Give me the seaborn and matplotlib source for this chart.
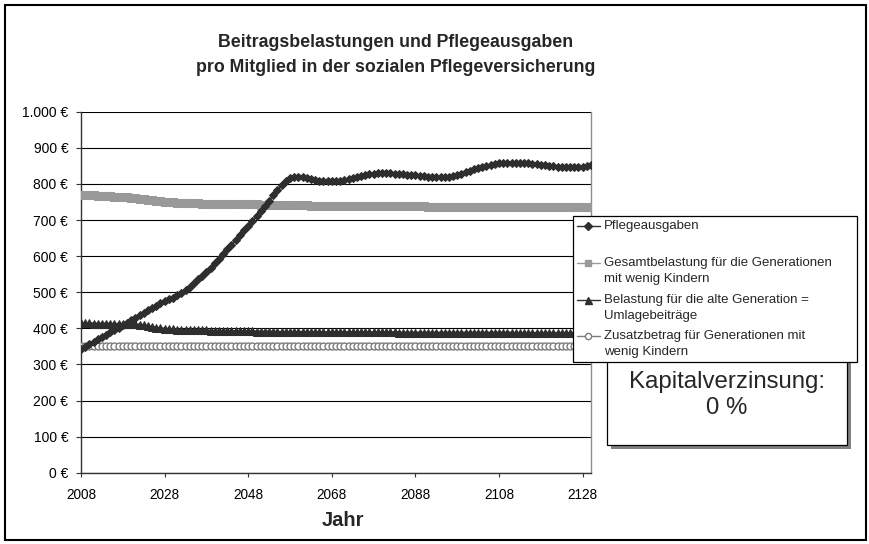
import matplotlib
matplotlib.use("Agg")
import matplotlib.pyplot as plt
from matplotlib import font_manager
from matplotlib.patches import Rectangle
from matplotlib.lines import Line2D
import seaborn as sns

# ---------------------------------------------------------------- data
years = list(range(2008, 2131))

pflegeausgaben = [
    344, 349, 356, 362, 369, 375, 382, 389, 395, 402,   # 2008-2017
    409, 415, 422, 429, 436, 443, 450, 457, 463, 469,   # 2018-2027
    475, 480, 485, 491, 498, 506, 515, 525, 536, 545,   # 2028-2037
    555, 567, 580, 593, 606, 619, 632, 645, 658, 671,   # 2038-2047
    684, 698, 712, 726, 740, 754, 768, 782, 796, 808,   # 2048-2057
    815, 818, 819, 818, 816, 813, 811, 809, 808, 807,   # 2058-2067
    807, 808, 809, 811, 814, 817, 820, 823, 825, 827,   # 2068-2077
    828, 829, 829, 829, 829, 828, 828, 827, 826, 825,   # 2078-2087
    824, 822, 821, 820, 819, 818, 818, 819, 820, 822,   # 2088-2097
    825, 828, 832, 836, 840, 844, 847, 850, 853, 855,   # 2098-2107
    857, 858, 859, 859, 859, 859, 858, 857, 856, 855,   # 2108-2117
    853, 852, 850, 849, 848, 847, 846, 846, 846, 847,   # 2118-2127
    848, 849, 851,                                      # 2128-2130
]

gesamtbelastung = [
    769, 769, 768, 768, 767, 767, 766, 766, 765, 765,
    764, 763, 762, 761, 759, 758, 756, 755, 753, 752,
    751, 750, 749, 748, 747, 747, 746, 746, 746, 745,
    745, 745, 744, 744, 744, 744, 744, 743, 743, 743,
    743, 743, 743, 742, 742, 742, 742, 742, 741, 741,
    741, 741, 741, 741, 741, 740, 740, 740, 740, 740,
    740, 740, 740, 740, 740, 739, 739, 739, 739, 739,
    739, 739, 739, 739, 738, 738, 738, 738, 738, 738,
    738, 738, 738, 737, 737, 737, 737, 737, 737, 737,
    737, 737, 737, 737, 737, 737, 736, 736, 736, 736,
    736, 736, 736, 736, 736, 736, 736, 736, 736, 735,
    735, 735, 735, 735, 735, 735, 735, 735, 735, 735,
    735, 735, 735,
]

belastung_alt = [
    414, 414, 414, 413, 413, 413, 413, 413, 412, 412,
    412, 412, 411, 411, 410, 408, 406, 404, 402, 400,
    399, 398, 397, 396, 396, 395, 395, 394, 394, 394,
    394, 393, 393, 393, 393, 393, 393, 392, 392, 392,
    392, 392, 391, 391, 391, 391, 391, 390, 390, 390,
    390, 390, 390, 390, 390, 389, 389, 389, 389, 389,
    389, 389, 389, 389, 389, 389, 389, 389, 389, 389,
    389, 389, 389, 389, 389, 389, 388, 388, 388, 388,
    388, 388, 388, 388, 388, 388, 388, 388, 388, 388,
    388, 388, 388, 388, 388, 388, 388, 388, 388, 388,
    388, 388, 388, 388, 387, 387, 387, 387, 387, 387,
    387, 387, 387, 387, 387, 387, 387, 387, 387, 387,
    387, 387, 387,
]

zusatzbetrag = [
    350, 350, 350, 350, 350, 350, 350, 350, 350, 350,
    350, 350, 350, 350, 350, 350, 350, 350, 350, 350,
    350, 350, 350, 350, 350, 350, 350, 350, 350, 350,
    350, 350, 350, 350, 350, 350, 350, 350, 350, 350,
    350, 350, 350, 350, 350, 350, 350, 350, 350, 350,
    350, 350, 350, 350, 350, 350, 350, 350, 350, 350,
    350, 350, 350, 350, 350, 350, 350, 350, 350, 350,
    350, 350, 350, 350, 350, 350, 350, 350, 350, 350,
    350, 350, 350, 350, 350, 350, 350, 350, 350, 350,
    350, 350, 350, 350, 350, 350, 350, 350, 350, 350,
    350, 350, 350, 350, 350, 350, 350, 350, 350, 350,
    350, 350, 350, 350, 350, 350, 350, 350, 350, 350,
    350, 350, 350,
]

series_labels = [
    "Pflegeausgaben",
    "Gesamtbelastung für die Generationen\nmit wenig Kindern",
    "Belastung für die alte Generation =\nUmlagebeiträge",
    "Zusatzbetrag für Generationen mit\nwenig Kindern",
]

y_ticks = [0, 100, 200, 300, 400, 500, 600, 700, 800, 900, 1000]
y_tick_labels = ["0 €", "100 €", "200 €", "300 €", "400 €", "500 €",
                 "600 €", "700 €", "800 €", "900 €", "1.000 €"]
x_ticks = [2008, 2028, 2048, 2068, 2088, 2108, 2128]
x_tick_labels = ["2008", "2028", "2048", "2068", "2088", "2108", "2128"]

title_lines = ["Beitragsbelastungen und Pflegeausgaben",
               "pro Mitglied in der sozialen Pflegeversicherung"]
x_label = "Jahr"
note_lines = ["Kapitalverzinsung:", "0 %"]

# ---------------------------------------------------------------- styles
sns.set_style("white")
plt.rcParams["font.family"] = ["Liberation Sans", "DejaVu Sans"]

installed = {f.name for f in font_manager.fontManager.ttflist}
if "Liberation Sans Narrow" in installed:
    title_family = ["Liberation Sans Narrow", "Liberation Sans"]
    title_size = 15.5
else:
    title_family = ["Liberation Sans", "DejaVu Sans"]
    title_size = 12.8

DARK = "#2e2e2e"
GRAY = "#999999"
CIRC = "#7c7c7c"

styles = [
    dict(color=DARK, marker="D", markersize=4.4, markerfacecolor=DARK,
         markeredgecolor=DARK, linewidth=1.2),
    dict(color=GRAY, marker="s", markersize=5.4, markerfacecolor=GRAY,
         markeredgecolor=GRAY, linewidth=1.2),
    dict(color=DARK, marker="^", markersize=5.6, markerfacecolor=DARK,
         markeredgecolor=DARK, linewidth=1.6),
    dict(color=CIRC, marker="o", markersize=5.0, markerfacecolor="white",
         markeredgecolor=CIRC, markeredgewidth=1.0, linewidth=1.0),
]

W, H = 870, 544


def fx(px):
    return px / W


def fy(py):
    return 1 - py / H


fig = plt.figure(figsize=(W / 100, H / 100), dpi=100)
fig.patch.set_facecolor("white")

# plot area
ax_left, ax_right, ax_top, ax_bottom = 81, 591, 111.7, 472.7
ax = fig.add_axes([fx(ax_left), fy(ax_bottom),
                   fx(ax_right - ax_left), (ax_bottom - ax_top) / H])
ax.set_facecolor("white")

all_series = [pflegeausgaben, gesamtbelastung, belastung_alt, zusatzbetrag]
draw_order = [1, 3, 2, 0]
for i in draw_order:
    sns.lineplot(x=years, y=all_series[i], ax=ax, legend=False,
                 zorder=3 + draw_order.index(i), **styles[i])

ax.set_xlim(2008, 2130)
ax.set_ylim(0, 1000)
ax.set_yticks(y_ticks)
ax.set_yticklabels(y_tick_labels)
ax.set_xticks(x_ticks)
ax.set_xticklabels(x_tick_labels)
ax.set_xlabel("")
ax.set_ylabel("")

ax.yaxis.grid(True, color="black", linewidth=0.8)
ax.xaxis.grid(False)
ax.set_axisbelow(True)

for side in ["left", "bottom"]:
    ax.spines[side].set_color("#333333")
    ax.spines[side].set_linewidth(1.0)
ax.spines["top"].set_visible(False)
ax.spines["right"].set_color("#8c8c8c")
ax.spines["right"].set_linewidth(1.0)

ax.tick_params(axis="y", which="major", direction="out", length=3.6,
               width=0.8, color="#333333", pad=5.5, labelsize=10,
               left=True)
ax.tick_params(axis="x", which="major", direction="out", length=3.2,
               width=0.8, color="#333333", pad=7.5, labelsize=9.8,
               bottom=True)
for lab in ax.get_xticklabels() + ax.get_yticklabels():
    lab.set_color("black")

# title and axis caption
for k, (line, ypx) in enumerate(zip(title_lines, [42.5, 68.0])):
    fig.text(fx(396), fy(ypx), line, ha="center", va="center",
             fontsize=title_size, fontweight="bold", family=title_family)
fig.text(fx(343), fy(521), x_label, ha="center", va="center",
         fontsize=14.5, fontweight="bold")

# note box with drop shadow
bx0, by0, bx1, by1 = 606.7, 345, 847.3, 445
fig.add_artist(Rectangle((fx(bx0 + 4), fy(by1 + 4)), fx(bx1 - bx0),
                         (by1 - by0) / H, transform=fig.transFigure,
                         facecolor="#808080", edgecolor="none", zorder=6))
fig.add_artist(Rectangle((fx(bx0), fy(by1)), fx(bx1 - bx0),
                         (by1 - by0) / H, transform=fig.transFigure,
                         facecolor="white", edgecolor="black",
                         linewidth=0.9, zorder=7))
for line, ypx in zip(note_lines, [381.7, 408.3]):
    fig.text(fx(727), fy(ypx), line, ha="center", va="center",
             fontsize=17.3, zorder=8)

# legend box
lx0, ly0, lx1, ly1 = 572.7, 215.7, 856.7, 361.7
fig.add_artist(Rectangle((fx(lx0), fy(ly1)), fx(lx1 - lx0),
                         (ly1 - ly0) / H, transform=fig.transFigure,
                         facecolor="white", edgecolor="black",
                         linewidth=0.9, zorder=9))
row_y = [225.7, 262.7, 300.0, 336.0]
line_gap = 16.5
for i, label in enumerate(series_labels):
    st = styles[i]
    yy = fy(row_y[i])
    fig.add_artist(Line2D([fx(576.7), fx(600)], [yy, yy],
                          transform=fig.transFigure, color=st["color"],
                          linewidth=1.0, zorder=10))
    fig.add_artist(Line2D([fx(588.3)], [yy], transform=fig.transFigure,
                          linestyle="none", marker=st["marker"],
                          markersize=st["markersize"] * 0.9,
                          markerfacecolor=st["markerfacecolor"],
                          markeredgecolor=st["markeredgecolor"],
                          markeredgewidth=st.get("markeredgewidth", 1.0),
                          zorder=11))
    for k, part in enumerate(label.split("\n")):
        fig.text(fx(604.3), fy(row_y[i] + k * line_gap), part,
                 ha="left", va="center", fontsize=9.5, zorder=11)

# outer chart frame
fig.add_artist(Rectangle((fx(5), fy(540)), fx(866 - 5), (540 - 5) / H,
                         transform=fig.transFigure, facecolor="none",
                         edgecolor="black", linewidth=1.5, zorder=12))

fig.savefig("out.png", dpi=100, facecolor="white")
